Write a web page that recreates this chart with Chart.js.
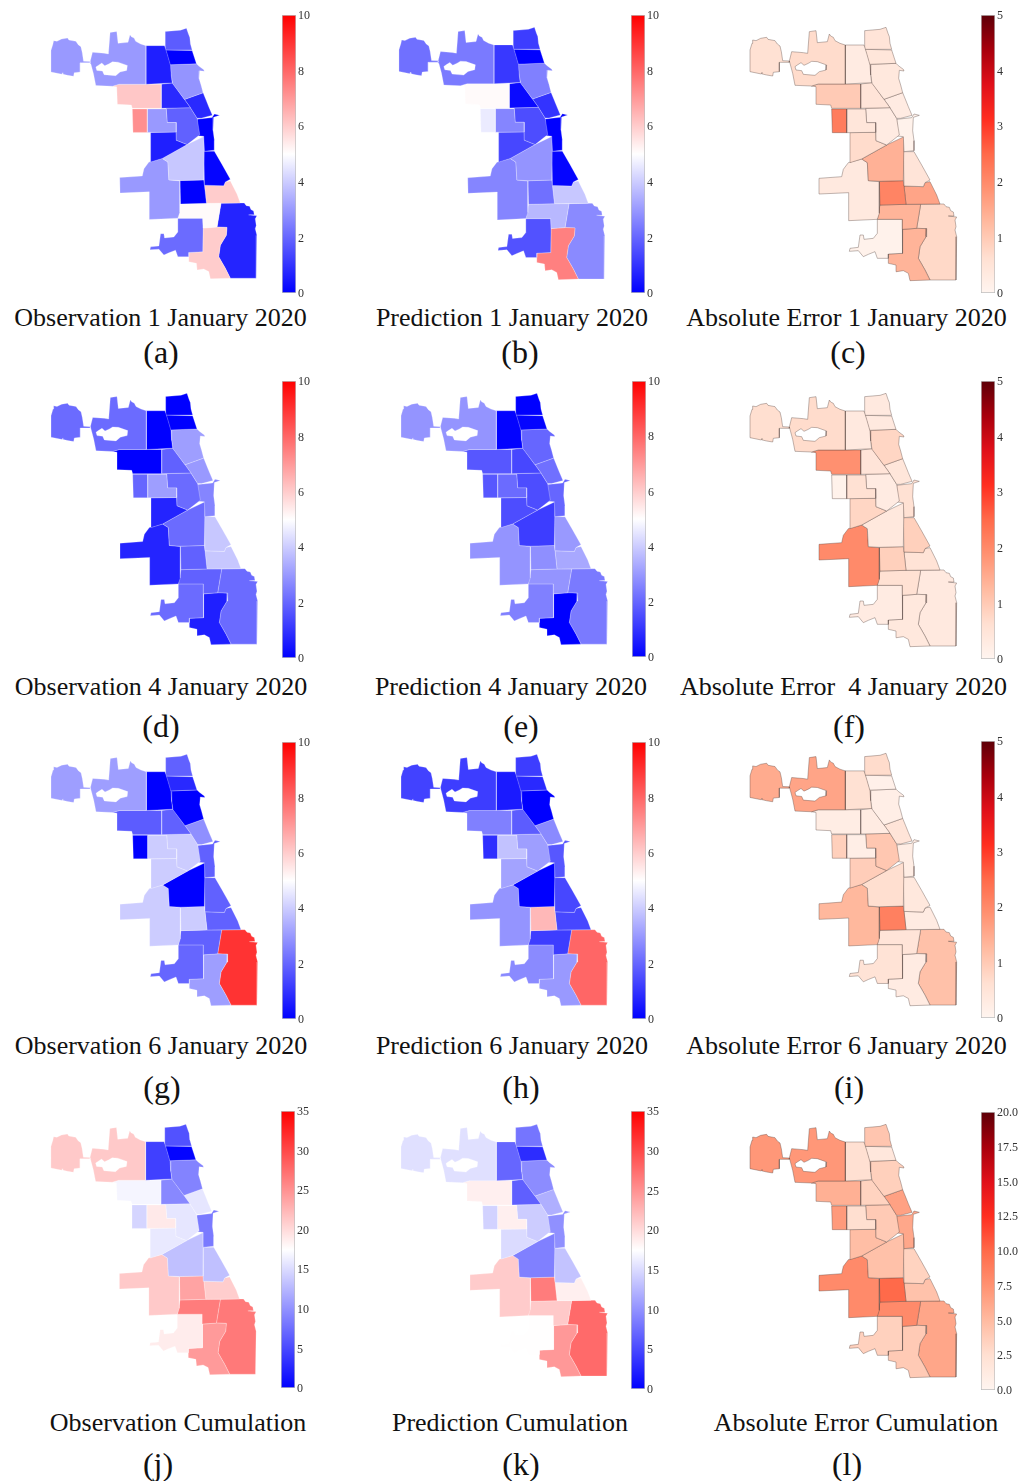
<!DOCTYPE html>
<html>
<head>
<meta charset="utf-8">
<title>Chicago observation, prediction and error maps</title>
<script src="https://cdn.jsdelivr.net/npm/chart.js@4/dist/chart.umd.min.js"></script>
<style>
    html, body { margin: 0; padding: 0; background: #fff; }
    #page { position: relative; width: 1030px; height: 1481px; overflow: hidden; }
    canvas { position: absolute; }
    .cap { position: absolute; font-family: "Liberation Serif", serif; color: #111; white-space: pre; transform: translateX(-50%); line-height: 1; }
    .title { font-size: 26px; }
    .letter { font-size: 32px; }
</style>
</head>
<body>
<div id="page"></div>
<script>
// ========== REGION OUTLINES (map units, y pointing down) ==========
const ohare = [[30,120],[36,100],[38,90],[48,92],[62,85],[80,82],[84,88],[105,92],[112,102],[120,108],[124,125],[128,152],[148,153],[148,157],[122,157],[118,157],[118,185],[100,187],[98,198],[80,195],[67,192],[66,187],[64,192],[30,185]];
const northWest = [[148,153],[155,125],[190,128],[203,130],[208,65],[228,62],[232,98],[262,95],[268,72],[272,78],[280,82],[285,92],[300,100],[316,105],[316,222],[235,222],[215,228],[165,226],[158,190],[150,160]];
const northWestHole = [[183,158],[192,166],[205,160],[215,154],[232,155],[260,165],[258,180],[238,185],[225,196],[190,193],[185,182],[168,180],[165,170],[172,165]];
const northMid = [[316,105],[372,105],[380,130],[390,165],[392,195],[395,218],[316,222]];
const farNorth = [[374,62],[420,58],[438,52],[444,70],[448,80],[450,100],[455,118],[374,118]];
const northCoast = [[375,118],[455,120],[468,160],[388,163],[380,135]];
const lakeView = [[388,163],[468,160],[475,167],[490,178],[492,183],[478,181],[476,205],[482,225],[488,248],[432,268],[396,220],[392,195]];
const westRow = [[214,228],[235,222],[316,222],[362,222],[362,295],[275,295],[272,285],[230,283],[228,230]];
const midRow = [[362,222],[396,218],[432,268],[450,293],[362,295]];
const coastRow = [[432,268],[488,248],[497,270],[505,290],[516,316],[482,325],[470,325],[450,293]];
const strip = [[275,297],[320,297],[320,368],[277,368]];
const besideStrip = [[320,297],[377,297],[380,338],[407,338],[407,367],[320,368]];
const center = [[377,295],[450,293],[470,325],[478,375],[440,405],[408,392],[407,338],[380,338]];
const loop = [[470,328],[515,323],[522,312],[538,316],[520,322],[518,362],[522,392],[522,422],[492,425],[490,380],[472,378]];
const southWestMid = [[330,368],[407,367],[408,392],[440,405],[365,447],[330,458]];
const southCentral = [[492,380],[490,512],[418,514],[385,512],[382,458],[365,447],[440,405]];
const southCoast = [[490,425],[522,425],[545,465],[570,510],[555,518],[550,530],[492,528]];
const bigWest = [[237,505],[305,500],[310,478],[325,458],[365,447],[382,458],[385,512],[418,515],[418,610],[412,628],[326,632],[326,548],[238,552]];
const southSquare = [[418,514],[490,512],[492,528],[498,583],[420,585]];
const coastSquare = [[492,528],[550,530],[555,518],[570,515],[590,555],[600,582],[498,583]];
const belowSquare = [[420,585],[498,583],[542,583],[530,655],[488,658],[487,628],[412,628]];
const bottomLeft = [[412,628],[487,628],[488,658],[487,730],[445,732],[445,745],[412,745],[405,725],[385,733],[370,740],[355,722],[328,724],[330,715],[355,712],[360,675],[370,675],[372,688],[400,685],[412,670]];
const bottomMid = [[445,732],[487,730],[488,658],[530,655],[560,656],[558,680],[540,710],[535,745],[555,780],[570,810],[510,812],[505,790],[490,782],[470,785],[468,765],[445,760]];
const farRight = [[542,583],[600,582],[612,582],[618,590],[628,592],[632,602],[640,606],[642,618],[625,618],[650,621],[645,630],[648,650],[645,660],[650,680],[648,810],[570,810],[555,780],[535,745],[540,710],[558,680],[560,656],[530,655]];

const regions = [ohare, northWest, northMid, farNorth, northCoast, lakeView, westRow, midRow, coastRow, strip, besideStrip, center, loop, southWestMid, southCentral, southCoast, bigWest, southSquare, coastSquare, belowSquare, bottomLeft, bottomMid, farRight];

// ========== VALUES PER REGION (same order as regions) ==========
const obsJan1 = [3.0,3.0,0.6,1.8,0.0,2.9,6.1,0.8,0.8,7.2,3.0,1.9,0.0,0.6,3.9,0.1,3.0,0.0,6.0,5.1,2.1,6.0,0.7];
const predJan1 = [2.2,2.4,1.1,1.2,0.0,2.5,5.1,0.2,1.0,4.6,2.6,1.5,0.0,1.4,2.9,0.1,2.6,2.2,3.9,3.6,1.6,7.5,2.7];
const errJan1 = [0.6,0.7,0.3,0.5,0.45,0.4,1.0,0.5,0.3,2.2,0.45,0.3,0.1,0.7,1.4,0.5,0.35,2.1,1.6,1.35,0.1,1.35,0.75];
const obsJan4 = [2.1,2.1,0.0,0.0,0.0,3.1,0.0,1.9,3.0,2.0,3.1,2.1,2.6,0.7,2.1,3.9,0.7,1.9,3.9,1.9,2.1,0.6,2.1];
const predJan4 = [2.9,2.9,0.05,0.0,0.1,2.0,1.7,1.4,2.2,1.7,2.1,1.5,2.0,1.5,1.2,3.0,2.9,2.8,3.3,2.9,2.5,0.0,2.4];
const errJan4 = [0.65,0.7,0.35,0.35,0.35,0.8,1.9,0.5,0.45,0.1,0.6,0.3,0.6,0.8,0.4,0.9,2.0,0.9,0.55,0.6,0.3,0.4,0.35];
const obsJan6 = [3.1,3.1,0.0,1.9,0.8,0.0,1.8,1.9,2.8,0.0,4.0,4.0,1.9,4.0,0.0,1.9,4.0,4.0,1.9,1.9,2.0,3.1,9.0];
const predJan6 = [1.3,1.2,0.5,1.2,0.8,0.0,2.5,1.8,2.7,0.9,3.8,3.1,1.7,3.2,0.0,1.4,2.9,6.4,1.4,1.2,2.7,3.0,8.0];
const errJan6 = [1.5,1.6,0.6,0.7,0.15,0.2,0.25,0.3,0.5,0.9,0.2,1.05,0.25,0.95,0.65,0.4,1.3,2.15,0.3,0.5,0.55,0.3,1.15];
const obsCum = [21.2,21.2,4.4,5.6,0.3,9.0,16.8,9.3,15.8,14.6,19.0,15.8,8.4,16.0,13.2,13.2,21.2,23.8,20.9,26.5,18.8,24.4,26.7];
const predCum = [15.4,15.4,7.0,8.0,3.0,9.6,18.6,6.5,12.0,14.4,18.6,14.0,9.9,15.0,8.8,13.4,21.1,26.5,18.6,21.2,17.6,24.6,27.7];
const errCum = [7.2,7.2,2.5,4.3,1.7,3.6,5.7,3.4,6.6,7.0,2.6,4.0,6.2,4.8,4.6,3.4,8.0,10.0,4.5,8.0,3.5,4.0,6.3];

// ========== COLOUR SCALES ==========
const bwrStops = ['#0000ff', '#ffffff', '#ff0000'];
const redsStops = ['#fff5f0', '#ffe0d2', '#ffbba1', '#ff9272', '#ff6a4a', '#ff2e20', '#e0101a', '#a8000c', '#5e0008'];
const bwrLine = 'rgba(255,255,255,0.35)';
const redsLine = 'rgba(90,70,65,0.55)';

function hexToRgb(hex) {
    return [1, 3, 5].map(i => parseInt(hex.slice(i, i + 2), 16));
}

function colorFor(stops, t) {
    const pos = Math.min(Math.max(t, 0), 1) * (stops.length - 1);
    const i = Math.min(Math.floor(pos), stops.length - 2);
    const a = hexToRgb(stops[i]);
    const b = hexToRgb(stops[i + 1]);
    const c = a.map((v, k) => Math.round(v + (b[k] - v) * (pos - i)));
    return `rgb(${c[0]},${c[1]},${c[2]})`;
}

// ========== PANELS ==========
const panels = [
    { values: obsJan1, stops: bwrStops, max: 10, step: 2, line: bwrLine, title: 'Observation 1 January 2020', letter: '(a)', map: [41, 11, 279, 287], bar: [282, 15, 278], titleAt: [160.5, 305], letterAt: [161, 336] },
    { values: predJan1, stops: bwrStops, max: 10, step: 2, line: bwrLine, title: 'Prediction 1 January 2020', letter: '(b)', map: [389, 10, 279, 289], bar: [631, 15, 278], titleAt: [512, 305], letterAt: [520, 336] },
    { values: errJan1, stops: redsStops, max: 5, step: 1, line: redsLine, title: 'Absolute Error 1 January 2020', letter: '(c)', map: [740, 10, 280, 290], bar: [981, 15, 278], titleAt: [846.5, 305], letterAt: [848, 336] },
    { values: obsJan4, stops: bwrStops, max: 10, step: 2, line: bwrLine, title: 'Observation 4 January 2020', letter: '(d)', map: [41, 376, 280, 288], bar: [282, 381, 277], titleAt: [161, 674], letterAt: [161, 710] },
    { values: predJan4, stops: bwrStops, max: 10, step: 2, line: bwrLine, title: 'Prediction 4 January 2020', letter: '(e)', map: [391, 376, 280, 288], bar: [632, 381, 276], titleAt: [511, 674], letterAt: [521, 710] },
    { values: errJan4, stops: redsStops, max: 5, step: 1, line: redsLine, title: 'Absolute Error  4 January 2020', letter: '(f)', map: [740, 376, 280, 290], bar: [981, 381, 278], titleAt: [843.5, 674], letterAt: [849, 710] },
    { values: obsJan6, stops: bwrStops, max: 10, step: 2, line: bwrLine, title: 'Observation 6 January 2020', letter: '(g)', map: [41, 737, 280, 288], bar: [282, 742, 277], titleAt: [161, 1033], letterAt: [162, 1071] },
    { values: predJan6, stops: bwrStops, max: 10, step: 2, line: bwrLine, title: 'Prediction 6 January 2020', letter: '(h)', map: [391, 737, 280, 288], bar: [632, 742, 277], titleAt: [512, 1033], letterAt: [521, 1071] },
    { values: errJan6, stops: redsStops, max: 5, step: 1, line: redsLine, title: 'Absolute Error 6 January 2020', letter: '(i)', map: [740, 736, 280, 289], bar: [981, 741, 277], titleAt: [846.5, 1033], letterAt: [849, 1071] },
    { values: obsCum, stops: bwrStops, max: 35, step: 5, line: bwrLine, title: 'Observation Cumulation', letter: '(j)', map: [41, 1107, 278, 287], bar: [281, 1111, 277], titleAt: [178, 1410], letterAt: [158, 1448] },
    { values: predCum, stops: bwrStops, max: 35, step: 5, line: bwrLine, title: 'Prediction Cumulation', letter: '(k)', map: [391, 1107, 280, 289], bar: [631, 1111, 278], titleAt: [510, 1410], letterAt: [521, 1448] },
    { values: errCum, stops: redsStops, max: 20, step: 2.5, line: redsLine, title: 'Absolute Error Cumulation', letter: '(l)', map: [740, 1107, 280, 290], bar: [981, 1112, 278], titleAt: [856, 1410], letterAt: [847, 1448] }
];

const page = document.getElementById('page');

function addCanvas(left, top, width, height) {
    const canvas = document.createElement('canvas');
    canvas.width = width;
    canvas.height = height;
    canvas.style.left = left + 'px';
    canvas.style.top = top + 'px';
    page.appendChild(canvas);
    return canvas;
}

function addCaption(cls, text, at) {
    const el = document.createElement('div');
    el.className = 'cap ' + cls;
    el.textContent = text;
    el.style.left = at[0] + 'px';
    el.style.top = at[1] + 'px';
    page.appendChild(el);
}

function toPoints(outline) {
    const pts = outline.map(p => ({ x: p[0], y: p[1] }));
    pts.push({ x: outline[0][0], y: outline[0][1] });
    return pts;
}

// ========== MAP CHART ==========
function drawMap(panel) {
    const datasets = [{
        data: toPoints(northWestHole),
        backgroundColor: '#ffffff',
        borderColor: panel.line,
        borderWidth: 0.7,
        fill: 'shape',
        showLine: true,
        pointRadius: 0,
        tension: 0
    }];
    regions.forEach((outline, i) => {
        datasets.push({
            data: toPoints(outline),
            backgroundColor: colorFor(panel.stops, panel.values[i] / panel.max),
            borderColor: panel.line,
            borderWidth: 0.7,
            fill: 'shape',
            showLine: true,
            pointRadius: 0,
            tension: 0
        });
    });
    new Chart(addCanvas(panel.map[0], panel.map[1], panel.map[2], panel.map[3]), {
        type: 'scatter',
        data: { datasets: datasets },
        options: {
            responsive: false,
            animation: false,
            layout: { padding: 0, autoPadding: false },
            plugins: { legend: { display: false }, tooltip: { enabled: false } },
            scales: {
                x: { type: 'linear', min: 0, max: 840, display: false },
                y: { type: 'linear', min: 0, max: 870, reverse: true, display: false }
            }
        }
    });
}

// ========== COLOUR BAR CHART ==========
function drawColorBar(panel) {
    const [left, top, height] = panel.bar;
    new Chart(addCanvas(left - 1, top - 10, 46, height + 20), {
        type: 'bar',
        data: {
            labels: [''],
            datasets: [{
                data: [panel.max],
                barPercentage: 1,
                categoryPercentage: 1,
                borderColor: '#bdbdbd',
                borderWidth: 1,
                borderSkipped: false,
                backgroundColor: function(context) {
                    const area = context.chart.chartArea;
                    if (!area) return panel.stops[0];
                    const gradient = context.chart.ctx.createLinearGradient(0, area.bottom, 0, area.top);
                    panel.stops.forEach((c, i) => gradient.addColorStop(i / (panel.stops.length - 1), c));
                    return gradient;
                }
            }]
        },
        options: {
            responsive: false,
            animation: false,
            layout: { padding: { left: 1, right: 0, top: 10, bottom: 10 }, autoPadding: false },
            plugins: { legend: { display: false }, tooltip: { enabled: false } },
            scales: {
                x: { display: false },
                y: {
                    position: 'right',
                    min: 0,
                    max: panel.max,
                    afterFit: function(scale) { scale.width = 31; },
                    grid: { display: false, drawTicks: false },
                    border: { display: false },
                    ticks: {
                        stepSize: panel.step,
                        padding: 2,
                        labelOffset: 1,
                        color: '#333333',
                        font: { family: '"Liberation Serif", serif', size: 12 },
                        callback: function(value) { return panel.step === 2.5 ? value.toFixed(1) : value; }
                    }
                }
            }
        }
    });
}

// ========== BUILD PAGE ==========
panels.forEach(panel => {
    drawMap(panel);
    drawColorBar(panel);
    addCaption('title', panel.title, panel.titleAt);
    addCaption('letter', panel.letter, panel.letterAt);
});
</script>
</body>
</html>
